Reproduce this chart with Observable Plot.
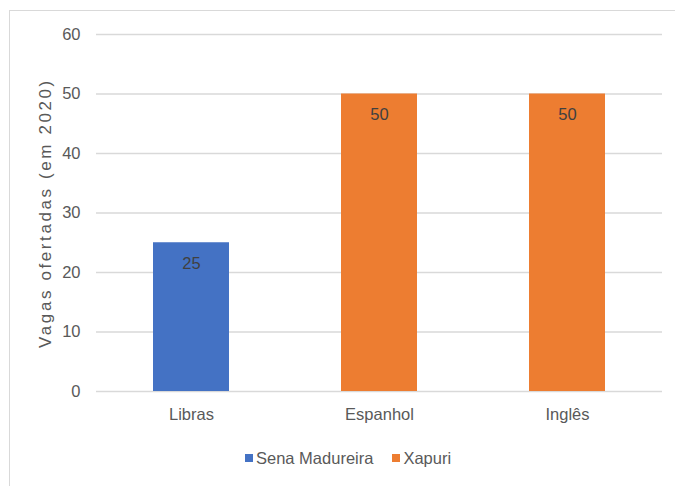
<!DOCTYPE html>
<html>
<head>
<meta charset="utf-8">
<script src="https://cdn.jsdelivr.net/npm/d3@7"></script>
<script src="https://cdn.jsdelivr.net/npm/@observablehq/plot@0.6"></script>
<style>
  html, body { margin: 0; padding: 0; background: #fff; overflow: hidden; }
  #wrap { position: relative; width: 675px; height: 486px; }
  #frame { position: absolute; left: 9px; top: 10px; width: 720px; height: 520px; border: 1px solid #d9d9d9; box-sizing: border-box; }
  #chart { position: absolute; left: 0; top: 0; }
  #legend { position: absolute; left: 245px; top: 446px; height: 24px; display: flex; align-items: center;
    font-family: "Liberation Sans", Arial, sans-serif; font-size: 16.5px; color: #595959; }
  .sw { width: 8px; height: 8px; display: inline-block; margin-right: 3px; }
  .item { display: flex; align-items: center; margin-right: 19px; }
</style>
</head>
<body>
<div id="wrap">
  <div id="frame"></div>
  <div id="chart"></div>
  <div id="legend"></div>
</div>
<script>
const categories = ["Libras", "Espanhol", "Inglês"];
const values = [25, 50, 50];
const campus = ["Sena Madureira", "Xapuri", "Xapuri"];
const seriesNames = ["Sena Madureira", "Xapuri"];
const seriesColors = ["#4472C4", "#ED7D31"];
const yTicks = [0, 10, 20, 30, 40, 50, 60];
const yLabel = "Vagas ofertadas (em 2020)";

const data = categories.map((c, i) => ({category: c, value: values[i], campus: campus[i]}));
const font = "'Liberation Sans', Arial, sans-serif";

const plot = Plot.plot({
  width: 675,
  height: 430,
  marginLeft: 96,
  marginRight: 13,
  marginTop: 34,
  marginBottom: 39,
  style: {fontFamily: font, fontSize: "16.5px", color: "#595959", background: "transparent"},
  x: {domain: categories, paddingInner: 0.597, paddingOuter: 0.2985, label: null},
  y: {domain: [0, 60], label: null},
  color: {domain: seriesNames, range: seriesColors},
  marks: [
    Plot.ruleY(yTicks, {stroke: "#d9d9d9", strokeWidth: 1.5}),
    Plot.barY(data, {x: "category", y: "value", fill: "campus"}),
    Plot.text(data, {x: "category", y: "value", text: d => String(d.value), dy: 21, fill: "#404040", fontSize: 16.5}),
    Plot.axisX({tickSize: 0, tickPadding: 17, fill: "#595959", fontSize: 16.5}),
    Plot.axisY({ticks: yTicks, tickSize: 0, tickPadding: 16, fill: "#595959", fontSize: 16.5, label: null}),
    Plot.text([yLabel], {frameAnchor: "left", y: 30, text: d => d, rotate: -90, dx: -51, textAnchor: "middle", fill: "#595959", fontSize: 17})
  ]
});
d3.select(plot).selectAll("text").filter(function() { return this.textContent === yLabel; })
  .style("letter-spacing", "2.6px");
document.getElementById("chart").appendChild(plot);

const legend = document.getElementById("legend");
seriesNames.forEach((name, i) => {
  const item = document.createElement("span");
  item.className = "item";
  const sw = document.createElement("span");
  sw.className = "sw";
  sw.style.background = seriesColors[i];
  item.appendChild(sw);
  item.appendChild(document.createTextNode(name));
  legend.appendChild(item);
});
</script>
</body>
</html>
